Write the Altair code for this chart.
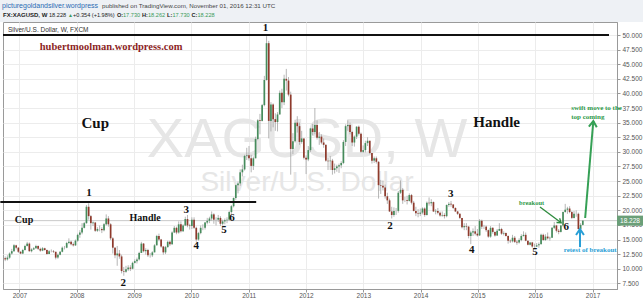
import altair as alt
import pandas as pd
import numpy as np

# ---- Biweekly XAG/USD candles, period start 2006-09-25, every 14 days ----
first_open = 11.8
close_2006 = [11.6, 11.9, 12.6, 13.0, 14.0, 13.6, 12.9]
high_2006 = [12.1, 12.3, 12.8, 13.4, 14.2, 14.1, 13.7]
low_2006 = [11.3, 11.4, 11.7, 12.4, 12.9, 13.3, 12.7]

close_2007 = [12.6, 13.2, 13.9, 14.3, 13.0, 13.3, 13.5, 13.9, 13.4, 13.1, 13.5, 13.2, 12.5, 13.0, 13.0, 12.9, 11.9, 12.4, 12.9, 13.6, 13.6, 14.4, 14.6, 14.2, 14.0, 14.8]
high_2007 = [13.0, 13.4, 14.1, 14.6, 14.5, 13.5, 13.7, 14.1, 14.0, 13.6, 13.7, 13.6, 13.3, 13.2, 13.3, 13.2, 12.9, 12.6, 13.0, 13.8, 13.9, 14.6, 15.2, 14.8, 14.5, 15.0]
low_2007 = [12.5, 12.5, 13.1, 13.8, 12.9, 12.8, 13.2, 13.4, 13.2, 12.9, 13.0, 13.1, 12.4, 12.5, 12.8, 12.7, 11.6, 11.7, 12.3, 12.8, 13.3, 13.5, 14.2, 14.0, 13.8, 13.9]

close_2008 = [15.8, 16.2, 17.0, 17.8, 20.6, 19.0, 17.8, 17.9, 16.5, 16.8, 16.8, 16.6, 17.6, 18.6, 17.6, 15.2, 13.6, 12.3, 12.6, 12.1, 9.6, 9.5, 9.9, 10.2, 10.0, 11.0]
high_2008 = [16.0, 16.6, 17.8, 18.0, 20.9, 21.2, 19.2, 18.1, 18.0, 17.1, 17.4, 17.1, 17.8, 19.3, 19.0, 17.8, 15.4, 13.7, 13.9, 13.2, 12.4, 10.3, 10.5, 10.6, 10.6, 11.2]
low_2008 = [14.6, 15.3, 15.9, 16.9, 17.7, 18.4, 16.7, 17.3, 16.3, 16.3, 16.4, 16.1, 16.4, 17.4, 17.2, 14.9, 12.6, 11.8, 10.5, 11.7, 9.2, 8.8, 9.3, 9.6, 9.6, 9.9]

close_2009 = [11.3, 11.6, 12.7, 14.3, 13.0, 13.2, 12.3, 12.3, 12.8, 14.0, 15.6, 15.0, 13.8, 12.8, 13.7, 14.6, 14.2, 16.2, 17.0, 16.2, 17.6, 16.4, 17.4, 18.5, 17.4, 17.3]
high_2009 = [11.6, 11.9, 12.9, 14.6, 14.4, 13.5, 13.4, 12.7, 13.0, 14.2, 15.8, 16.0, 15.1, 13.9, 13.9, 14.8, 14.8, 16.4, 17.3, 17.2, 18.1, 18.1, 17.6, 18.9, 19.2, 17.7]
low_2009 = [10.9, 10.9, 11.4, 12.7, 12.8, 12.4, 12.0, 11.9, 12.0, 12.8, 14.0, 14.7, 13.6, 12.4, 12.5, 13.6, 13.9, 14.1, 16.1, 15.9, 16.0, 16.2, 16.3, 17.3, 17.1, 16.7]

close_2010 = [18.4, 17.0, 15.0, 16.1, 17.0, 17.0, 17.9, 18.2, 18.6, 19.3, 18.4, 18.4, 18.7, 17.7, 18.1, 18.3, 18.4, 19.7, 20.7, 22.1, 24.3, 24.6, 26.5, 27.0, 29.3, 29.4]
high_2010 = [18.8, 18.8, 17.2, 16.3, 17.4, 17.6, 18.0, 18.7, 18.9, 19.8, 19.5, 18.8, 19.2, 19.0, 18.4, 18.6, 18.8, 19.9, 20.9, 22.2, 24.4, 24.9, 27.0, 27.8, 29.5, 30.7]
low_2010 = [16.8, 16.8, 14.6, 14.8, 15.9, 16.6, 16.7, 17.6, 17.8, 18.2, 17.7, 17.4, 18.0, 17.3, 17.4, 17.6, 17.8, 18.2, 19.4, 20.5, 21.8, 22.9, 24.2, 25.8, 26.8, 28.6]

close_2011 = [28.9, 27.6, 28.9, 32.2, 35.4, 35.3, 38.0, 42.3, 48.6, 35.3, 38.1, 35.6, 35.1, 36.4, 40.1, 38.5, 42.5, 42.2, 39.8, 30.5, 31.8, 35.0, 34.4, 31.7, 32.3, 29.0]
high_2011 = [31.0, 29.5, 29.2, 32.6, 35.6, 36.5, 38.2, 43.0, 49.8, 49.0, 38.5, 38.3, 36.6, 36.8, 40.5, 40.8, 43.2, 44.2, 42.8, 40.3, 33.2, 35.5, 36.1, 35.0, 33.6, 32.3]
low_2011 = [28.5, 26.5, 26.9, 28.9, 32.0, 33.0, 35.2, 37.8, 42.2, 32.3, 33.5, 34.2, 33.6, 33.5, 36.4, 37.5, 38.0, 40.5, 39.5, 26.1, 29.6, 31.6, 33.3, 31.2, 31.4, 28.7]

close_2012 = [28.7, 30.3, 34.0, 33.4, 34.6, 32.4, 32.6, 31.6, 31.2, 28.5, 28.4, 28.5, 26.9, 27.2, 27.5, 27.7, 28.1, 31.7, 34.4, 34.6, 33.4, 31.6, 32.6, 34.3, 33.1, 30.0]
high_2012 = [29.4, 31.0, 34.1, 34.8, 37.5, 35.4, 33.4, 33.0, 32.3, 31.3, 29.0, 29.3, 28.8, 28.0, 27.8, 28.0, 28.4, 32.0, 34.7, 35.4, 35.0, 33.6, 32.8, 34.4, 34.5, 33.3]
low_2012 = [26.2, 28.4, 30.0, 32.8, 33.0, 32.1, 31.2, 31.3, 30.7, 28.3, 26.9, 26.9, 26.1, 26.3, 26.6, 26.4, 27.2, 27.9, 31.0, 33.6, 33.0, 31.0, 30.9, 32.2, 32.8, 29.8]

close_2013 = [30.3, 31.5, 31.9, 29.8, 28.5, 28.9, 28.3, 24.3, 24.2, 23.9, 22.4, 21.7, 19.8, 19.2, 19.9, 19.9, 23.0, 23.5, 21.7, 21.7, 21.6, 22.6, 21.3, 19.9, 19.5, 19.4]
high_2013 = [31.1, 31.9, 32.5, 31.9, 29.8, 29.2, 29.2, 28.4, 25.2, 25.1, 24.4, 23.0, 22.0, 20.6, 20.5, 20.4, 23.3, 25.1, 23.8, 22.3, 22.5, 22.9, 22.8, 21.6, 20.6, 20.2]
low_2013 = [29.8, 29.9, 31.0, 29.6, 28.0, 28.1, 28.0, 22.0, 22.8, 23.4, 22.0, 21.1, 19.7, 18.6, 18.9, 19.2, 19.6, 22.8, 21.1, 21.4, 21.0, 21.5, 21.0, 19.8, 19.0, 18.8]

close_2014 = [19.6, 20.3, 19.2, 21.3, 21.2, 21.4, 19.8, 19.9, 19.6, 19.1, 19.2, 19.0, 20.9, 21.1, 21.0, 20.4, 19.8, 19.4, 18.7, 17.1, 17.3, 17.2, 15.6, 16.2, 16.4, 16.0]
high_2014 = [20.3, 20.5, 20.5, 21.5, 22.2, 21.9, 21.5, 20.2, 20.4, 19.8, 19.8, 19.5, 21.0, 21.4, 21.6, 20.9, 20.5, 19.9, 19.5, 18.7, 17.8, 17.8, 17.3, 16.5, 16.9, 17.3]
low_2014 = [19.0, 19.3, 18.9, 19.1, 20.8, 20.7, 19.7, 19.3, 19.3, 18.9, 18.9, 18.6, 18.8, 20.6, 20.6, 20.2, 19.7, 19.2, 18.5, 16.9, 16.6, 16.6, 15.2, 14.2, 15.6, 15.7]

close_2015 = [15.7, 18.2, 17.2, 17.2, 16.6, 15.5, 17.0, 16.3, 15.7, 16.5, 16.8, 16.0, 16.1, 15.6, 14.8, 14.7, 15.3, 14.6, 14.5, 14.9, 15.6, 15.8, 14.8, 14.1, 14.5, 13.8]
high_2015 = [16.8, 18.5, 18.4, 17.5, 17.4, 16.7, 17.3, 17.1, 16.4, 16.8, 17.8, 17.0, 16.4, 16.2, 15.7, 15.0, 15.8, 15.6, 14.9, 15.2, 15.9, 16.4, 16.2, 14.8, 14.6, 14.6]
low_2015 = [15.5, 15.6, 16.8, 16.8, 16.3, 15.3, 15.3, 16.0, 15.5, 15.6, 16.5, 15.8, 15.7, 15.5, 14.3, 14.4, 14.5, 14.4, 14.1, 14.3, 14.7, 15.5, 14.7, 14.0, 14.0, 13.6]

close_2016 = [13.8, 14.0, 14.2, 15.8, 14.9, 15.5, 15.2, 15.3, 17.0, 17.4, 16.5, 16.3, 17.4, 19.7, 20.1, 20.3, 19.7, 18.7, 19.4, 19.4, 16.8, 17.5, 18.228]
high_2016 = [14.3, 14.4, 14.5, 16.0, 16.0, 15.9, 16.2, 15.5, 17.1, 18.0, 17.5, 16.8, 17.5, 19.8, 21.1, 20.6, 20.7, 19.9, 19.9, 20.0, 19.6, 17.8, 18.262]
low_2016 = [13.6, 13.7, 13.6, 14.2, 14.8, 14.8, 15.0, 14.8, 15.3, 16.8, 16.2, 15.9, 16.2, 17.2, 19.6, 19.4, 19.5, 18.5, 18.6, 18.9, 16.7, 16.6, 17.4]

closes = (close_2006 + close_2007 + close_2008 + close_2009 + close_2010 + close_2011
          + close_2012 + close_2013 + close_2014 + close_2015 + close_2016)
highs = (high_2006 + high_2007 + high_2008 + high_2009 + high_2010 + high_2011
         + high_2012 + high_2013 + high_2014 + high_2015 + high_2016)
lows = (low_2006 + low_2007 + low_2008 + low_2009 + low_2010 + low_2011
        + low_2012 + low_2013 + low_2014 + low_2015 + low_2016)

last_price = 18.228

# ---- annotations (date, price) ----
num_text = ["1", "1", "2", "3", "4", "5", "6", "2", "3", "4", "5", "6"]
num_date = ["2011-04-19", "2008-03-19", "2008-10-23", "2009-11-29", "2010-02-01", "2010-07-28",
            "2010-09-17", "2013-06-20", "2014-07-12", "2014-11-23", "2016-01-01", "2016-07-17"]
num_price = [51.15, 23.0, 7.64, 20.05, 13.89, 16.63, 18.73, 17.36, 22.79, 13.2, 12.86, 17.14]

starts = pd.date_range("2006-09-25", periods=len(closes), freq="14D")
opens = [first_open] + closes[:-1]
df = pd.DataFrame({"date": starts + pd.Timedelta(days=7), "open": opens, "close": closes,
                   "high": highs, "low": lows})
df["high"] = df[["high", "open", "close"]].max(axis=1)
df["low"] = df[["low", "open", "close"]].min(axis=1)
df["dir"] = np.where(df["close"] >= df["open"], "up", "down")

SANS = "Liberation Sans"
SERIF = "Liberation Serif"
UP = "#468c5c"
DOWN = "#8f3a2c"
GREEN_TXT = "#2f9a4a"
BLUE = "#2a9fd6"

xscale = alt.Scale(domain=[alt.DateTime(year=2006, month=9, date=18),
                           alt.DateTime(year=2017, month=6, date=6)])
yscale = alt.Scale(domain=[6.53, 52.225], nice=False, zero=False)
xaxis = alt.Axis(values=[alt.DateTime(year=y, month=1, date=1) for y in range(2007, 2018)],
                 format="%Y", title=None, grid=True, gridColor="#ececec", labelFontSize=6.5,
                 labelColor="#555555", tickSize=3, tickColor="#999999", domainColor="#999999",
                 labelPadding=0, labelFont=SANS, labelFlush=False)
yaxis = alt.Axis(orient="right", values=[7.5 + 2.5 * i for i in range(18)], format=".3f",
                 title=None, grid=True, gridColor="#ececec", labelFontSize=6.5,
                 labelColor="#555555", tickSize=3, tickColor="#999999", domainColor="#999999",
                 labelPadding=2, labelFont=SANS, labelFlush=False)


def X(field):
    return alt.X(field, type="temporal", scale=xscale, axis=xaxis)


def Y(field):
    return alt.Y(field, type="quantitative", scale=yscale, axis=yaxis)


def ts(s):
    return pd.to_datetime(s)


layers = []

# header background
blank = alt.Data(values=[{"a": 1}])
layers.append(alt.Chart(blank).mark_rect(color="#eef1f5").encode(
    x=alt.value(-3), x2=alt.value(640), y=alt.value(-22), y2=alt.value(0)))

# watermark
wm = pd.DataFrame({"date": ts(["2012-01-08", "2012-01-08"]), "price": [32.03, 24.67],
                   "t": ["XAGUSD, W", "Silver/U.S. Dollar"]})
layers.append(alt.Chart(wm.iloc[[0]]).mark_text(font=SANS, fontSize=56, color="#e6e6e6",
                                                 align="center", baseline="middle").encode(
    x=X("date"), y=Y("price"), text="t:N"))
layers.append(alt.Chart(wm.iloc[[1]]).mark_text(font=SANS, fontSize=28, color="#e6e6e6",
                                                 align="center", baseline="middle").encode(
    x=X("date"), y=Y("price"), text="t:N"))

# current price line
lp = pd.DataFrame({"price": [last_price], "top": [last_price + 0.86], "bot": [last_price - 0.86],
                   "t": [f"{last_price:.3f}"]})
layers.append(alt.Chart(lp).mark_rule(color="#c9c9c9", strokeWidth=1).encode(y=Y("price")))

# candles
layers.append(alt.Chart(df).mark_rule(color="#a3a3a3", strokeWidth=0.8).encode(
    x=X("date"), y=Y("low"), y2="high"))
layers.append(alt.Chart(df).mark_rule(strokeWidth=1.7).encode(
    x=X("date"), y=Y("open"), y2="close",
    color=alt.Color("dir:N", scale=alt.Scale(domain=["up", "down"], range=[UP, DOWN]), legend=None)))

# horizontal black lines
hl = pd.DataFrame({"date": ts(["2006-09-18", "2006-09-01"]), "date2": ts(["2017-04-16", "2011-02-18"]),
                   "price": [50.0, 21.42]})
layers.append(alt.Chart(hl.iloc[[0]]).mark_rule(color="#111111", strokeWidth=2).encode(
    x=X("date"), x2="date2:T", y=Y("price")))
layers.append(alt.Chart(hl.iloc[[1]]).mark_rule(color="#111111", strokeWidth=1.8).encode(
    x=X("date"), x2="date2:T", y=Y("price")))

# wave numbers
nums = pd.DataFrame({"date": ts(num_date), "price": num_price, "t": num_text})
layers.append(alt.Chart(nums).mark_text(font=SERIF, fontSize=11, fontWeight="bold", color="#111111",
                                         align="center", baseline="middle").encode(
    x=X("date"), y=Y("price"), text="t:N"))

# words
words_small = pd.DataFrame({"date": ts(["2007-01-30", "2009-03-12"]), "price": [18.34, 18.68],
                            "t": ["Cup", "Handle"]})
layers.append(alt.Chart(words_small).mark_text(font=SERIF, fontSize=10, fontWeight="bold",
                                                color="#111111", align="center",
                                                baseline="middle").encode(
    x=X("date"), y=Y("price"), text="t:N"))
words_big = pd.DataFrame({"date": ts(["2008-04-28", "2015-05-01"]), "price": [35.0, 35.16],
                          "t": ["Cup", "Handle"]})
layers.append(alt.Chart(words_big).mark_text(font=SERIF, fontSize=15, fontWeight="bold",
                                              color="#111111", align="center",
                                              baseline="middle").encode(
    x=X("date"), y=Y("price"), text="t:N"))

site = pd.DataFrame({"date": ts(["2008-08-07"]), "price": [47.95], "t": ["hubertmoolman.wordpress.com"]})
layers.append(alt.Chart(site).mark_text(font=SERIF, fontSize=10.5, fontWeight="bold", color="#8c1f1f",
                                         align="center", baseline="middle").encode(
    x=X("date"), y=Y("price"), text="t:N"))

# green / blue notes
gnotes = pd.DataFrame({"date": ts(["2015-12-10"]), "price": [21.25], "t": ["breakout"]})
layers.append(alt.Chart(gnotes).mark_text(font=SERIF, fontSize=6.5, fontWeight="bold", color=GREEN_TXT,
                                           align="center", baseline="middle").encode(
    x=X("date"), y=Y("price"), text="t:N"))
swift = pd.DataFrame({"date": ts(["2016-08-18", "2016-08-18"]), "price": [37.5, 36.05],
                      "t": ["swift move to the", "top coming"]})
layers.append(alt.Chart(swift).mark_text(font=SERIF, fontSize=7, fontWeight="bold", color=GREEN_TXT,
                                          align="left", baseline="middle").encode(
    x=X("date"), y=Y("price"), text="t:N"))
retest = pd.DataFrame({"date": ts(["2016-07-01"]), "price": [13.2], "t": ["retest of breakout"]})
layers.append(alt.Chart(retest).mark_text(font=SERIF, fontSize=7, fontWeight="bold", color=BLUE,
                                           align="left", baseline="middle").encode(
    x=X("date"), y=Y("price"), text="t:N"))

# arrows
arrows = pd.DataFrame({
    "date": ts(["2016-02-01", "2016-11-15", "2016-10-13"]),
    "price": [20.56, 18.68, 13.7],
    "date2": ts(["2016-06-15", "2017-01-06", "2016-10-13"]),
    "price2": [17.87, 35.28, 16.78],
})
arrow_style = [("#2e8b3e", 1.3, 127.0, 60), ("#35a055", 2.0, 4.7, 140), (BLUE, 2.0, 0.0, 140)]
head = "M -0.67 1 L 0 0 L 0.67 1"
for i, (col, w, ang, sz) in enumerate(arrow_style):
    a = arrows.iloc[[i]]
    layers.append(alt.Chart(a).mark_rule(color=col, strokeWidth=w).encode(
        x=X("date"), x2="date2:T", y=Y("price"), y2="price2"))
    hd = pd.DataFrame({"date": a["date2"].values, "price": a["price2"].values})
    layers.append(alt.Chart(hd).mark_point(shape=head, filled=False, strokeWidth=w, size=sz,
                                           angle=ang, color=col, opacity=1).encode(
        x=X("date"), y=Y("price")))

# last-price box on the axis
layers.append(alt.Chart(lp).mark_rect(color="#6a9f78").encode(
    x=alt.value(614), x2=alt.value(640), y=Y("top"), y2="bot"))
layers.append(alt.Chart(lp).mark_text(font=SANS, fontSize=6.5, color="white", align="center",
                                       baseline="middle").encode(
    x=alt.value(627), y=Y("price"), text="t:N"))

# header & legend texts (pixel positions relative to plot origin)
G = "#3a9a5a"
D = "#222222"
hdr = [
    ("picturegoldandsilver.wordpress", -1, -16, "#2a6ab3", "normal", 7),
    ("published on TradingView.com, November 01, 2016 12:31 UTC", 99, -16, "#444444", "normal", 6.2),
    ("FX:XAGUSD, W", 0, -7, D, "bold", 6),
    ("18.228", 46, -7, D, "normal", 5.6),
    ("\u25B2", 65, -7, G, "normal", 5),
    ("+0.354 (+1.98%)", 70, -7, D, "normal", 5.6),
    ("O:", 114, -7, D, "bold", 5.6),
    ("17.730", 120, -7, G, "normal", 5.6),
    ("H:", 139, -7, D, "bold", 5.6),
    ("18.262", 145, -7, G, "normal", 5.6),
    ("L:", 164, -7, D, "bold", 5.6),
    ("17.730", 169.5, -7, G, "normal", 5.6),
    ("C:", 188.5, -7, D, "bold", 5.6),
    ("18.228", 194.5, -7, G, "normal", 5.6),
    ("Silver/U.S. Dollar, W, FXCM", 5, 8, "#333333", "normal", 6.5),
]
for t, px, py, col, wt, fs in hdr:
    layers.append(alt.Chart(blank).mark_text(text=t, font=SANS, fontSize=fs, fontWeight=wt, color=col,
                                             align="left", baseline="middle").encode(
        x=alt.value(px), y=alt.value(py)))

chart = alt.layer(*layers).properties(
    width=614, height=267,
    autosize=alt.AutoSizeParams(type="none"),
    padding={"left": 3, "top": 22, "right": 26, "bottom": 13},
    background="white",
).configure_view(stroke="#9a9a9a", strokeWidth=1)

chart.save("out.html", embed_options={"renderer": "svg", "actions": False})
